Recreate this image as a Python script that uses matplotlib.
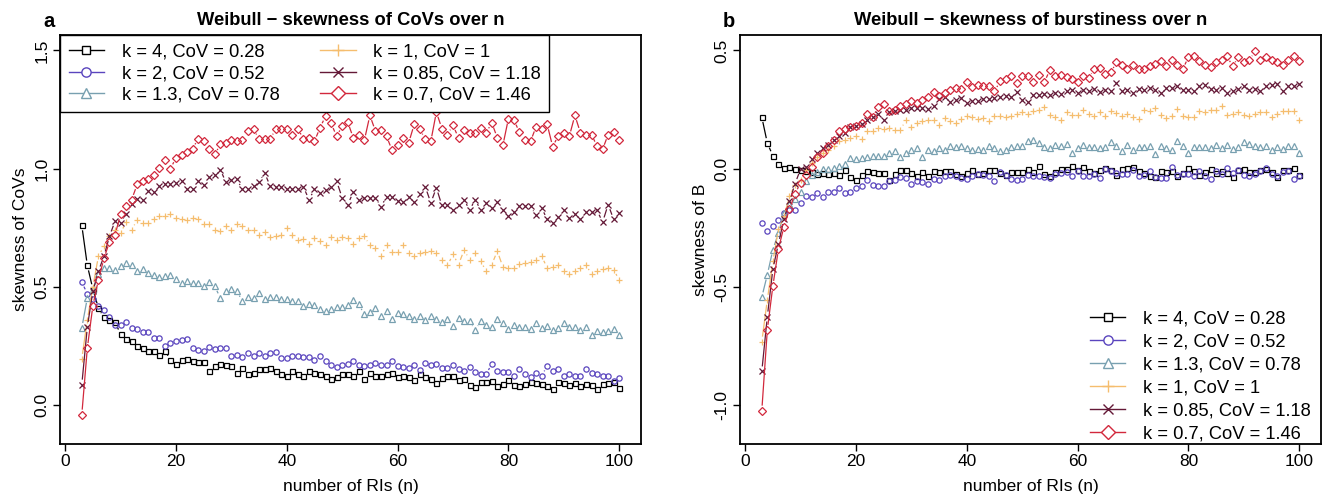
import numpy as np
import matplotlib
matplotlib.use("Agg")
import matplotlib.pyplot as plt
from matplotlib.collections import LineCollection
from matplotlib.lines import Line2D

plt.rcParams['font.family'] = ['Liberation Sans', 'DejaVu Sans']

n = np.arange(3, 101)

labels = ["k = 4, CoV = 0.28", "k = 2, CoV = 0.52", "k = 1.3, CoV = 0.78",
          "k = 1, CoV = 1", "k = 0.85, CoV = 1.18", "k = 0.7, CoV = 1.46"]

# panel a: skewness of CoVs, n = 3..100
cov_k4 = [0.76, 0.59, 0.49, 0.41, 0.37, 0.36, 0.35, 0.30, 0.28, 0.27,
          0.25, 0.24, 0.23, 0.23, 0.21, 0.23, 0.19, 0.175, 0.19, 0.195,
          0.185, 0.18, 0.18, 0.143, 0.164, 0.175, 0.171, 0.164, 0.136, 0.157,
          0.133, 0.136, 0.15, 0.15, 0.157, 0.143, 0.129, 0.122, 0.143, 0.129,
          0.122, 0.143, 0.136, 0.129, 0.124, 0.11, 0.119, 0.129, 0.131, 0.122,
          0.143, 0.11, 0.136, 0.122, 0.124, 0.129, 0.136, 0.119, 0.124, 0.119,
          0.105, 0.129, 0.119, 0.11, 0.093, 0.115, 0.122, 0.122, 0.105, 0.11,
          0.086, 0.076, 0.096, 0.096, 0.1, 0.082, 0.09, 0.107, 0.086, 0.082,
          0.09, 0.096, 0.093, 0.09, 0.082, 0.068, 0.096, 0.093, 0.086, 0.093,
          0.082, 0.09, 0.086, 0.068, 0.09, 0.093, 0.096, 0.072]
cov_k2 = [0.52, 0.47, 0.45, 0.42, 0.40, 0.37, 0.34, 0.34, 0.35, 0.326,
          0.322, 0.31, 0.308, 0.284, 0.284, 0.248, 0.263, 0.27, 0.274, 0.277,
          0.241, 0.234, 0.227, 0.246, 0.237, 0.241, 0.241, 0.209, 0.213, 0.203,
          0.22, 0.206, 0.22, 0.209, 0.22, 0.223, 0.198, 0.198, 0.206, 0.209,
          0.202, 0.202, 0.19, 0.206, 0.185, 0.167, 0.161, 0.167, 0.175, 0.185,
          0.169, 0.164, 0.169, 0.178, 0.167, 0.169, 0.185, 0.164, 0.161, 0.157,
          0.171, 0.147, 0.178, 0.167, 0.175, 0.157, 0.157, 0.167, 0.15, 0.143,
          0.161, 0.139, 0.129, 0.129, 0.175, 0.143, 0.139, 0.139, 0.124, 0.15,
          0.129, 0.119, 0.136, 0.124, 0.164, 0.143, 0.153, 0.124, 0.129, 0.124,
          0.122, 0.153, 0.136, 0.133, 0.124, 0.122, 0.1, 0.115]
cov_k13 = [0.326, 0.453, 0.488, 0.552, 0.58, 0.58, 0.573, 0.587, 0.601, 0.594,
           0.566, 0.576, 0.559, 0.548, 0.542, 0.545, 0.548, 0.534, 0.517, 0.524,
           0.514, 0.514, 0.502, 0.519, 0.502, 0.453, 0.481, 0.491, 0.481, 0.439,
           0.457, 0.453, 0.474, 0.449, 0.457, 0.457, 0.449, 0.449, 0.439, 0.439,
           0.418, 0.429, 0.421, 0.404, 0.397, 0.404, 0.415, 0.415, 0.421, 0.446,
           0.425, 0.383, 0.392, 0.411, 0.376, 0.397, 0.364, 0.387, 0.383, 0.376,
           0.364, 0.376, 0.361, 0.378, 0.364, 0.35, 0.364, 0.336, 0.368, 0.354,
           0.354, 0.316, 0.354, 0.34, 0.33, 0.364, 0.347, 0.322, 0.34, 0.33,
           0.33, 0.322, 0.347, 0.326, 0.336, 0.319, 0.326, 0.347, 0.33, 0.33,
           0.319, 0.33, 0.298, 0.312, 0.308, 0.312, 0.322, 0.294]
cov_k1 = [0.195, 0.36, 0.50, 0.629, 0.672, 0.714, 0.74, 0.728, 0.773, 0.742,
          0.782, 0.771, 0.771, 0.785, 0.799, 0.799, 0.81, 0.792, 0.785, 0.782,
          0.792, 0.785, 0.764, 0.764, 0.742, 0.735, 0.757, 0.742, 0.764, 0.757,
          0.742, 0.742, 0.721, 0.731, 0.711, 0.714, 0.717, 0.749, 0.717, 0.697,
          0.70, 0.679, 0.707, 0.693, 0.675, 0.711, 0.697, 0.711, 0.707, 0.679,
          0.707, 0.714, 0.675, 0.665, 0.632, 0.675, 0.646, 0.646, 0.675, 0.644,
          0.632, 0.644, 0.646, 0.651, 0.641, 0.615, 0.59, 0.637, 0.594, 0.655,
          0.615, 0.644, 0.608, 0.566, 0.594, 0.651, 0.584, 0.58, 0.58, 0.598,
          0.601, 0.604, 0.612, 0.629, 0.58, 0.584, 0.594, 0.566, 0.556, 0.566,
          0.58, 0.594, 0.552, 0.566, 0.576, 0.58, 0.573, 0.528]
cov_k085 = [0.086, 0.33, 0.481, 0.566, 0.629, 0.714, 0.778, 0.771, 0.81, 0.85,
            0.872, 0.869, 0.905, 0.90, 0.926, 0.933, 0.933, 0.937, 0.947, 0.915,
            0.915, 0.947, 0.929, 0.965, 0.971, 0.996, 0.943, 0.951, 0.954, 0.912,
            0.915, 0.926, 0.943, 0.982, 0.926, 0.923, 0.923, 0.912, 0.915, 0.915,
            0.923, 0.869, 0.912, 0.895, 0.909, 0.923, 0.947, 0.876, 0.848, 0.90,
            0.869, 0.876, 0.876, 0.876, 0.838, 0.881, 0.881, 0.862, 0.858, 0.881,
            0.858, 0.891, 0.923, 0.855, 0.919, 0.844, 0.844, 0.824, 0.848, 0.869,
            0.824, 0.869, 0.824, 0.855, 0.834, 0.858, 0.824, 0.799, 0.816, 0.841,
            0.841, 0.841, 0.802, 0.834, 0.785, 0.771, 0.796, 0.824, 0.792, 0.81,
            0.788, 0.816, 0.816, 0.824, 0.773, 0.848, 0.785, 0.813]
cov_k07 = [-0.041, 0.241, 0.42, 0.53, 0.62, 0.69, 0.72, 0.806, 0.841, 0.869,
           0.933, 0.947, 0.954, 0.975, 1.003, 1.036, 0.999, 1.046, 1.056, 1.07,
           1.084, 1.126, 1.116, 1.081, 1.06, 1.102, 1.109, 1.123, 1.116, 1.123,
           1.159, 1.166, 1.126, 1.126, 1.126, 1.166, 1.166, 1.169, 1.144, 1.169,
           1.126, 1.13, 1.116, 1.173, 1.222, 1.191, 1.137, 1.18, 1.197, 1.13,
           1.144, 1.12, 1.225, 1.159, 1.163, 1.137, 1.078, 1.098, 1.13, 1.109,
           1.187, 1.166, 1.126, 1.116, 1.239, 1.169, 1.144, 1.183, 1.13, 1.163,
           1.149, 1.149, 1.173, 1.152, 1.194, 1.13, 1.098, 1.211, 1.205, 1.154,
           1.12, 1.116, 1.177, 1.169, 1.187, 1.092, 1.14, 1.152, 1.137, 1.225,
           1.152, 1.144, 1.144, 1.095, 1.081, 1.144, 1.154, 1.123]

# panel b: skewness of burstiness B, n = 3..100
b_k4 = [0.218, 0.108, 0.054, 0.02, 0.002, 0.006, -0.002, -0.008, -0.012, -0.016,
        -0.022, -0.019, -0.022, -0.019, -0.026, -0.005, -0.036, -0.047, -0.026, -0.012,
        -0.016, -0.019, -0.019, -0.047, -0.022, -0.005, -0.005, -0.019, -0.033, -0.016,
        -0.03, -0.012, -0.016, -0.012, -0.012, -0.022, -0.033, -0.019, -0.005, -0.022,
        -0.019, -0.005, -0.008, -0.019, -0.026, -0.016, -0.016, -0.016, 0.0, -0.016,
        0.012, -0.022, -0.03, -0.016, -0.002, -0.002, 0.012, -0.005, 0.006, -0.012,
        -0.019, -0.008, 0.002, -0.008, -0.026, 0.0, 0.002, 0.006, -0.012, -0.019,
        -0.03, -0.036, -0.012, -0.016, -0.012, -0.033, -0.019, 0.002, -0.012, -0.026,
        -0.016, 0.0, -0.019, -0.012, -0.019, -0.036, -0.008, 0.0, -0.016, -0.016,
        -0.008, 0.0, -0.016, -0.036, -0.008, -0.008, 0.002, -0.026]
b_k2 = [-0.231, -0.262, -0.242, -0.217, -0.188, -0.174, -0.177, -0.146, -0.115, -0.12,
        -0.104, -0.12, -0.097, -0.097, -0.08, -0.104, -0.097, -0.082, -0.075, -0.047,
        -0.068, -0.072, -0.075, -0.054, -0.047, -0.036, -0.04, -0.064, -0.054, -0.058,
        -0.064, -0.044, -0.047, -0.033, -0.026, -0.03, -0.04, -0.044, -0.03, -0.022,
        -0.026, -0.03, -0.054, -0.016, -0.026, -0.044, -0.05, -0.044, -0.026, -0.033,
        -0.03, -0.036, -0.04, -0.022, -0.019, -0.016, -0.03, -0.012, -0.03, -0.033,
        -0.022, -0.04, 0.0, -0.012, -0.019, -0.022, -0.022, -0.008, -0.03, -0.026,
        -0.012, -0.036, -0.04, -0.04, 0.006, -0.026, -0.022, -0.022, -0.03, -0.012,
        -0.033, -0.044, -0.012, -0.022, 0.002, -0.019, -0.005, -0.026, -0.03, -0.022,
        -0.012, 0.002, -0.022, -0.03, -0.016, -0.012, -0.044, -0.03]
b_k13 = [-0.544, -0.449, -0.343, -0.273, -0.188, -0.149, -0.129, -0.097, -0.054, -0.026,
         -0.016, -0.002, -0.002, 0.002, 0.009, 0.02, 0.044, 0.04, 0.044, 0.051,
         0.054, 0.054, 0.054, 0.066, 0.073, 0.049, 0.068, 0.08, 0.087, 0.051,
         0.08, 0.073, 0.087, 0.08, 0.094, 0.091, 0.094, 0.087, 0.08, 0.082,
         0.08, 0.097, 0.087, 0.073, 0.08, 0.091, 0.097, 0.094, 0.115, 0.122,
         0.108, 0.091, 0.087, 0.101, 0.094, 0.105, 0.068, 0.087, 0.101, 0.091,
         0.091, 0.087, 0.091, 0.111, 0.094, 0.073, 0.101, 0.077, 0.091, 0.091,
         0.094, 0.063, 0.094, 0.087, 0.08, 0.115, 0.094, 0.068, 0.091, 0.091,
         0.091, 0.087, 0.101, 0.087, 0.101, 0.082, 0.091, 0.111, 0.105, 0.094,
         0.091, 0.097, 0.077, 0.091, 0.082, 0.097, 0.097, 0.066]
b_k1 = [-0.732, -0.555, -0.393, -0.256, -0.202, -0.118, -0.068, -0.047, -0.008, 0.023,
        0.049, 0.066, 0.08, 0.094, 0.115, 0.122, 0.129, 0.136, 0.125, 0.157,
        0.157, 0.171, 0.167, 0.171, 0.164, 0.164, 0.204, 0.176, 0.195, 0.2,
        0.204, 0.207, 0.185, 0.214, 0.2, 0.193, 0.21, 0.221, 0.218, 0.21,
        0.214, 0.2, 0.221, 0.224, 0.218, 0.224, 0.232, 0.238, 0.232, 0.242,
        0.246, 0.26, 0.228, 0.218, 0.207, 0.238, 0.228, 0.228, 0.246, 0.232,
        0.224, 0.238, 0.224, 0.242, 0.235, 0.221, 0.232, 0.218, 0.21, 0.246,
        0.242, 0.256, 0.228, 0.214, 0.224, 0.252, 0.224, 0.218, 0.218, 0.242,
        0.238, 0.246, 0.246, 0.263, 0.228, 0.232, 0.238, 0.228, 0.224, 0.232,
        0.238, 0.238, 0.218, 0.232, 0.242, 0.242, 0.242, 0.204]
b_k085 = [-0.858, -0.626, -0.425, -0.318, -0.214, -0.139, -0.064, -0.002, 0.006, 0.04,
          0.066, 0.087, 0.101, 0.122, 0.136, 0.15, 0.176, 0.181, 0.19, 0.207,
          0.218, 0.232, 0.207, 0.238, 0.242, 0.249, 0.246, 0.256, 0.256, 0.256,
          0.252, 0.263, 0.294, 0.303, 0.28, 0.291, 0.298, 0.277, 0.288, 0.284,
          0.294, 0.294, 0.298, 0.303, 0.308, 0.303, 0.322, 0.291, 0.28, 0.313,
          0.313, 0.317, 0.313, 0.32, 0.317, 0.327, 0.334, 0.32, 0.331, 0.327,
          0.336, 0.322, 0.334, 0.327, 0.362, 0.327, 0.331, 0.32, 0.336, 0.331,
          0.341, 0.334, 0.32, 0.341, 0.341, 0.348, 0.334, 0.331, 0.327, 0.348,
          0.355, 0.336, 0.331, 0.341, 0.32, 0.327, 0.336, 0.348, 0.334, 0.336,
          0.327, 0.348, 0.355, 0.359, 0.327, 0.351, 0.348, 0.359]
b_k07 = [-1.024, -0.682, -0.496, -0.341, -0.245, -0.171, -0.106, -0.061, -0.026, 0.006,
         0.049, 0.066, 0.097, 0.122, 0.157, 0.167, 0.176, 0.181, 0.195, 0.232,
         0.218, 0.26, 0.274, 0.242, 0.249, 0.263, 0.274, 0.284, 0.277, 0.291,
         0.303, 0.322, 0.308, 0.32, 0.334, 0.341, 0.336, 0.365, 0.345, 0.355,
         0.348, 0.351, 0.327, 0.369, 0.379, 0.393, 0.362, 0.393, 0.393, 0.365,
         0.397, 0.365, 0.418, 0.393, 0.397, 0.387, 0.379, 0.365, 0.393, 0.383,
         0.421, 0.425, 0.401, 0.407, 0.449, 0.44, 0.421, 0.44, 0.421, 0.421,
         0.435, 0.444, 0.454, 0.435, 0.458, 0.44, 0.421, 0.472, 0.475, 0.454,
         0.44, 0.43, 0.449, 0.458, 0.475, 0.432, 0.472, 0.449, 0.458, 0.496,
         0.461, 0.472, 0.458, 0.449, 0.44, 0.461, 0.475, 0.454]

colors = ["#000000", "#5A45BE", "#78A0B0", "#F5BD6E", "#641937", "#D2283C"]
markers = ["s", "o", "^", "+", "x", "D"]
msizes = [3.6, 3.8, 4.2, 4.6, 3.8, 4.2]

W, H = 1325, 500
fig = plt.figure(figsize=(W / 100, H / 100), dpi=100)
axA = fig.add_axes([60.3 / W, (H - 443.7) / H, 580.4 / W, 408.4 / H])
axB = fig.add_axes([740.3 / W, (H - 443.7) / H, 580.4 / W, 408.4 / H])


def r_type_b(ax, x, y, color, marker, ms, gap=5.0):
    # lines between points with gaps around them, like R's type = "b"
    pts = ax.transData.transform(np.column_stack([x, y]))
    inv = ax.transData.inverted()
    segs = []
    for p, q in zip(pts[:-1], pts[1:]):
        d = q - p
        L = np.hypot(d[0], d[1])
        if L > 2 * gap + 0.5:
            u = d / L
            segs.append(inv.transform(np.array([p + u * gap, q - u * gap])))
    ax.add_collection(LineCollection(segs, colors=color, linewidths=0.9))
    ax.plot(x, y, ls="none", marker=marker, ms=ms, mfc="none", mec=color, mew=0.9)


def style(ax, ylim, yticks, yticklabels, ylabel):
    ax.set_xlim(-0.88, 103.88)
    ax.set_ylim(*ylim)
    ax.set_xticks([0, 20, 40, 60, 80, 100])
    ax.set_yticks(yticks)
    ax.set_yticklabels(yticklabels, rotation=90, va="center")
    ax.tick_params(direction="out", length=5, width=1.0, labelsize=12.5)
    ax.tick_params(axis="x", pad=2.5)
    ax.tick_params(axis="y", pad=3.0)
    for s in ax.spines.values():
        s.set_linewidth(1.3)
    ax.set_xlabel("number of RIs (n)", fontsize=12.5)
    ax.xaxis.set_label_coords(0.5, -0.087)
    ax.set_ylabel(ylabel, fontsize=12.5)
    ax.yaxis.set_label_coords(-0.056, 0.5)


style(axA, (-0.164, 1.564), [0, 0.5, 1.0, 1.5], ["0.0", "0.5", "1.0", "1.5"],
      "skewness of CoVs")
style(axB, (-1.164, 0.564), [-1.0, -0.5, 0.0, 0.5], ["-1.0", "-0.5", "0.0", "0.5"],
      "skewness of B")

seriesA = [cov_k4, cov_k2, cov_k13, cov_k1, cov_k085, cov_k07]
seriesB = [b_k4, b_k2, b_k13, b_k1, b_k085, b_k07]
for vals, c, m, ms in zip(seriesA, colors, markers, msizes):
    r_type_b(axA, n, vals, c, m, ms)
for vals, c, m, ms in zip(seriesB, colors, markers, msizes):
    r_type_b(axB, n, vals, c, m, ms)

handles = [Line2D([], [], color=c, lw=1.0, marker=m, ms=ms * 1.75, mfc="white",
                  mec=c, mew=1.0) for c, m, ms in zip(colors, markers, msizes)]
legA = axA.legend(handles, labels, loc="upper left", ncol=2, fontsize=13.2,
                  frameon=True, fancybox=False, edgecolor="black", framealpha=1,
                  borderaxespad=0, borderpad=0.45, handlelength=1.95,
                  handletextpad=0.95, columnspacing=2.2, labelspacing=0.25)
legA.get_frame().set_linewidth(1.0)
legB = axB.legend(handles, labels, loc="lower right", ncol=1, fontsize=13.2,
                  frameon=False, borderaxespad=0, borderpad=0.55, handlelength=1.95,
                  handletextpad=0.95, labelspacing=0.33,
                  bbox_to_anchor=(1.0, -9 / 408.4))

fig.text(350.5 / W, (H - 25) / H, "Weibull \u2212 skewness of CoVs over n",
         ha="center", va="baseline", fontsize=13.2, fontweight="bold")
fig.text(1030.5 / W, (H - 25) / H, "Weibull \u2212 skewness of burstiness over n",
         ha="center", va="baseline", fontsize=13.2, fontweight="bold")
fig.text(49 / W, (H - 27) / H, "a", ha="center", va="baseline", fontsize=14.5,
         fontweight="bold")
fig.text(729 / W, (H - 27) / H, "b", ha="center", va="baseline", fontsize=14.5,
         fontweight="bold")

fig.savefig("out.png", dpi=100)
